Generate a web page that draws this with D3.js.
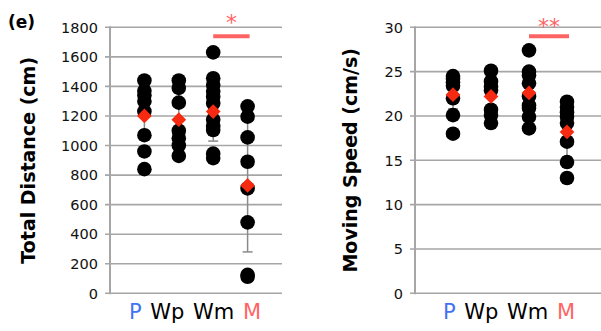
<!DOCTYPE html>
<html><head><meta charset="utf-8">
<script src="https://cdn.jsdelivr.net/npm/d3@7"></script>
<style>body{margin:0;background:#fff}svg{display:block}</style>
</head><body>
<svg id="c" width="601" height="331"></svg>
<script>
const categories = ["P","Wp","Wm","M"];
const categoryColors = ["#3f73f2","#000","#000","#ff6464"];
// Panel 1: Total Distance (cm)
const distP  = [1440,1370,1340,1300,1230,1070,960,840];
const distWp = [1440,1390,1290,1100,1050,1000,930];
const distWm = [1630,1455,1410,1365,1330,1285,1175,1130,1105,945,915];
const distM  = [1265,1195,1055,890,710,480,125,112];
const distMeans = [1200,1175,1230,730];
const distSD = [130,180,200,450];
const distTicks = [0,200,400,600,800,1000,1200,1400,1600,1800];
// Panel 2: Moving Speed (cm/s)
const spdP  = [24.5,24.2,23.8,23.4,22.0,20.1,18.0];
const spdWp = [25.1,23.9,23.3,22.9,20.7,20.1,19.2];
const spdWm = [27.4,25.0,24.6,23.7,22.2,21.2,20.9,19.9,18.6];
const spdM  = [21.6,21.0,20.4,19.9,19.2,17.1,14.8,13.0];
const spdMeans = [22.4,22.2,22.6,18.2];
const spdSD = [1.6,1.8,2.2,2.8];
const spdTicks = [0,5,10,15,20,25,30];

const svg = d3.select("#c");
const FONT = "DejaVu Sans, Verdana, sans-serif";

function panel(o){
  const g = svg.append("g");
  const y = d3.scaleLinear().domain([0,o.max]).range([293.3,27.3]);
  const x = d3.scalePoint().domain(categories).range([o.x0,o.x1]).padding(1);
  // grid
  g.selectAll("line.grid").data(o.ticks).join("line")
    .attr("x1",o.x0-5).attr("x2",o.x1).attr("y1",d=>y(d)).attr("y2",d=>y(d))
    .attr("stroke","#a6a6a6").attr("stroke-width",1.6);
  // axis line
  g.append("line").attr("x1",o.x0).attr("x2",o.x0).attr("y1",y(o.max)-1).attr("y2",y(0)+1)
    .attr("stroke","#a6a6a6").attr("stroke-width",2);
  // tick labels
  g.selectAll("text.tk").data(o.ticks).join("text")
    .attr("x",o.x0-12).attr("y",d=>y(d)).attr("dy","0.36em")
    .attr("text-anchor","end").attr("font-family",FONT).attr("font-size",14.5)
    .attr("fill","#111").text(d=>d);
  // y title
  g.append("text").attr("transform",`translate(${o.tx},${(27.3+293.3)/2}) rotate(-90)`)
    .attr("text-anchor","middle").attr("dy","0.36em")
    .attr("font-family",FONT).attr("font-weight","bold").attr("font-size",19)
    .text(o.title);
  // error bars
  categories.forEach((c,i)=>{
    const cx = x(c), lo = y(o.means[i]-o.sd[i]), hi = y(o.means[i]+o.sd[i]);
    g.append("line").attr("x1",cx).attr("x2",cx).attr("y1",lo).attr("y2",hi)
      .attr("stroke","#8a8a8a").attr("stroke-width",1.5);
    [lo,hi].forEach(v=>g.append("line").attr("x1",cx-5).attr("x2",cx+5).attr("y1",v).attr("y2",v)
      .attr("stroke","#8a8a8a").attr("stroke-width",1.5));
  });
  // dots
  categories.forEach((c,i)=>{
    g.selectAll(null).data(o.series[i]).join("circle")
      .attr("cx",x(c)).attr("cy",d=>y(d)).attr("r",7.3).attr("fill","#000");
  });
  // means
  const sym = d3.symbol(d3.symbolSquare, 108);
  g.selectAll("path.mean").data(o.means).join("path")
    .attr("d",sym())
    .attr("transform",(d,i)=>`translate(${x(categories[i])},${y(d)}) rotate(45)`)
    .attr("fill","#f52a10");
  // x labels: one centred line, coloured per category
  const xl = g.append("text").attr("x",o.lx).attr("y",319).attr("text-anchor","middle")
    .attr("font-family",FONT).attr("font-size",21).attr("word-spacing",2);
  categories.forEach((c,i)=>{
    xl.append("tspan").attr("fill",categoryColors[i]).text(c + (i<categories.length-1?" ":""));
  });
  // significance
  g.append("line").attr("x1",x("Wm")).attr("x2",x("M")+2).attr("y1",36.3).attr("y2",36.3)
    .attr("stroke","#ff6464").attr("stroke-width",4);
  g.append("text").attr("x",(x("Wm")+x("M"))/2+1).attr("y",o.sy)
    .attr("text-anchor","middle").attr("font-family",FONT).attr("font-size",22)
    .attr("fill","#ff6464").text(o.sig);
}

panel({x0:110,x1:282,max:1800,ticks:distTicks,title:"Total Distance (cm)",tx:28,lx:195,sy:30,
  series:[distP,distWp,distWm,distM],means:distMeans,sd:distSD,sig:"*"});
panel({x0:415,x1:605,max:30,ticks:spdTicks,title:"Moving Speed (cm/s)",tx:350,lx:509,sy:34,
  series:[spdP,spdWp,spdWm,spdM],means:spdMeans,sd:spdSD,sig:"**"});

svg.append("text").attr("x",8).attr("y",28).attr("font-family",FONT)
  .attr("font-weight","bold").attr("font-size",17).text("(e)");
</script>
</body></html>
